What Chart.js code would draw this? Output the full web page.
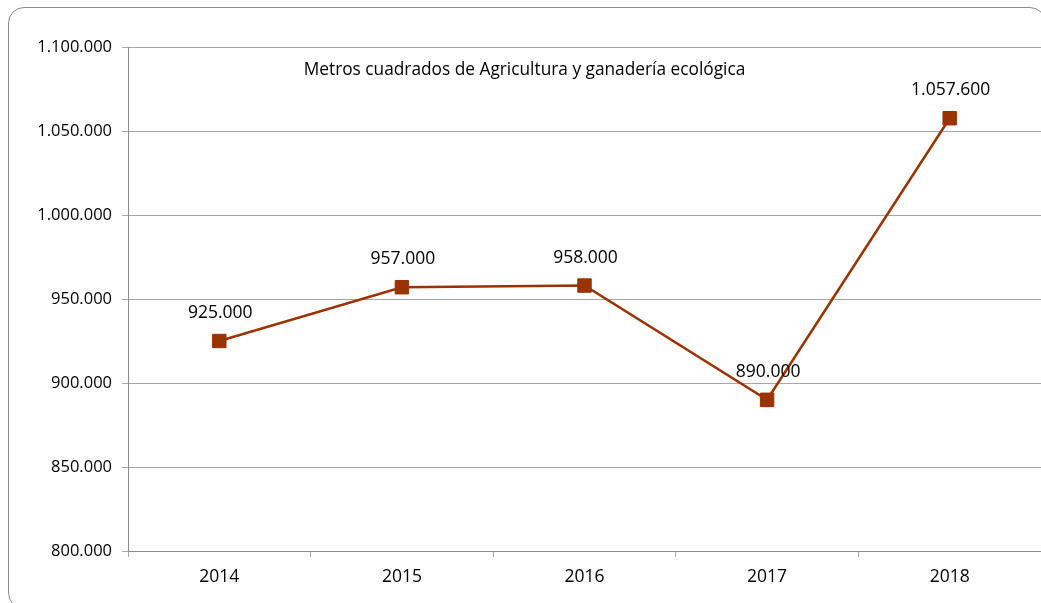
<!DOCTYPE html>
<html>
<head>
<meta charset="utf-8">
<script src="https://cdn.jsdelivr.net/npm/chart.js@4/dist/chart.umd.min.js"></script>
<style>
  html, body { margin: 0; padding: 0; background: #fff; }
  #wrap { position: relative; width: 1041px; height: 603px; overflow: hidden; }
  #frame {
    position: absolute; left: 8px; top: 7px; width: 1038px; height: 602px;
    border: 1.5px solid #8c8c8c; border-radius: 16px; box-sizing: border-box;
  }
  canvas { position: absolute; left: 0; top: 0; }
</style>
</head>
<body>
<div id="wrap">
  <div id="frame"></div>
  <canvas id="chart" width="1041" height="603"></canvas>
</div>
<script>
const years = ['2014', '2015', '2016', '2017', '2018'];
const superficie = [925000, 957000, 958000, 890000, 1057600];
const chartTitle = 'Metros cuadrados de Agricultura y ganadería ecológica';
const FONT = "'Open Sans', 'Liberation Sans', sans-serif";

function formatNumber(value) {
  return Math.round(value).toString().replace(/\B(?=(\d{3})+(?!\d))/g, '.');
}

// etiquetas de datos y titulo dentro del area del grafico
const labelsPlugin = {
  id: 'labels',
  afterDatasetsDraw(chart) {
    const ctx = chart.ctx;
    const area = chart.chartArea;
    ctx.save();
    ctx.fillStyle = '#000';
    ctx.font = `17.5px ${FONT}`;
    ctx.textAlign = 'center';
    ctx.textBaseline = 'middle';
    chart.getDatasetMeta(0).data.forEach((pt, i) => {
      ctx.fillText(formatNumber(superficie[i]), pt.x + 1, pt.y - 28);
    });
    ctx.font = `17.3px ${FONT}`;
    ctx.fillText(chartTitle, chart.width / 2 + 4, area.top + 23);
    ctx.restore();
  }
};

new Chart(document.getElementById('chart'), {
  type: 'line',
  data: {
    labels: years,
    datasets: [{
      data: superficie,
      borderColor: '#993300',
      backgroundColor: '#993300',
      borderWidth: 2.5,
      pointStyle: 'rect',
      pointRadius: 9.5,
      pointHoverRadius: 9.5,
      pointBorderWidth: 1,
      tension: 0
    }]
  },
  options: {
    responsive: false,
    animation: false,
    layout: { autoPadding: false, padding: { top: 47, left: 0, right: 0, bottom: 0 } },
    plugins: {
      legend: { display: false },
      title: { display: false },
      tooltip: { enabled: false }
    },
    scales: {
      x: {
        offset: true,
        afterFit: scale => {
          scale.height = 52;
          scale.paddingLeft = 0;
          scale.paddingRight = 0;
        },
        grid: {
          offset: true,
          drawOnChartArea: false,
          tickLength: 6,
          color: '#a6a6a6'
        },
        border: { color: '#8c8c8c' },
        ticks: { color: '#000', font: { family: FONT, size: 17.5 }, padding: 10 }
      },
      y: {
        min: 800000,
        max: 1100000,
        afterFit: scale => { scale.width = 128; },
        grid: { color: '#a6a6a6', tickLength: 6 },
        border: { color: '#8c8c8c' },
        ticks: {
          stepSize: 50000,
          color: '#000',
          padding: 10,
          font: { family: FONT, size: 16.5 },
          callback: value => formatNumber(value)
        }
      }
    }
  },
  plugins: [labelsPlugin]
});
</script>
</body>
</html>
